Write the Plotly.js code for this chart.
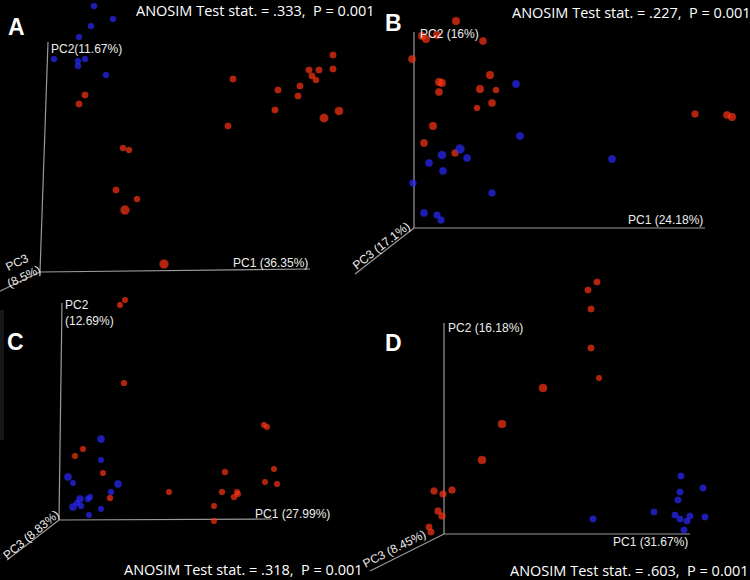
<!DOCTYPE html>
<html>
<head>
<meta charset="utf-8">
<script src="https://cdn.plot.ly/plotly-3.0.1.min.js"></script>
<style>html,body{margin:0;padding:0;background:#000;}</style>
</head>
<body>
<div id="chart" style="width:750px;height:580px;"></div>
<script>
// ---- Panel A ----
const aBlueX = [0.54,0.73,0.51,0.39,0.14,0.38,0.45,0.38,0.66];
const aBlueY = [2.66,2.53,2.46,2.35,2.13,2.11,2.13,2.06,1.97];
const aBlueZ = [0.3,0.3,0.3,0.3,0.3,0.3,0.3,0.3,0.3];
const aRedX = [0.45,0.39,0.83,0.89,0.76,0.97,0.85,1.24,1.93,1.88,2.93,2.69,2.79,2.93,2.72,2.76,2.60,2.38,2.58,2.35,2.84,2.99];
const aRedY = [1.77,1.68,1.24,1.22,0.82,0.73,0.62,0.08,1.93,1.46,2.17,2.02,2.02,2.03,1.96,1.92,1.86,1.82,1.76,1.62,1.54,1.61];
const aRedZ = [0.4,0.4,0.3,0.3,0.4,0.3,1.0,1.0,0.4,0.4,0.4,0.4,0.4,0.4,0.4,0.3,0.4,0.4,0.4,0.4,0.9,0.8];
// ---- Panel B ----
const bRedX = [0.42,0.08,0.12,0.23,0.69,-0.02,0.25,0.28,0.25,0.76,0.66,0.82,0.63,0.78,0.19,0.10,0.41,2.81,3.13,3.18];
const bRedY = [2.07,1.92,1.89,1.93,1.87,1.69,1.46,1.45,1.36,1.53,1.39,1.38,1.20,1.25,1.02,0.85,0.75,1.14,1.13,1.11];
const bRedZ = [0.7,0.7,0.7,0.7,0.6,0.6,0.7,0.7,0.6,0.7,0.7,0.3,0.3,0.6,0.7,0.6,0.5,0.5,0.6,0.7];
const bBlueX = [1.02,1.06,0.46,0.28,0.53,0.15,0.29,-0.01,0.78,0.10,0.23,0.27,1.98];
const bBlueY = [1.44,0.92,0.79,0.73,0.70,0.65,0.57,0.45,0.35,0.15,0.13,0.08,0.69];
const bBlueZ = [0.6,0.6,1.0,0.8,0.6,0.6,0.6,0.5,0.5,0.6,0.5,0.5,0.6];
// ---- Panel C ----
const cRedX = [0.61,0.66,0.65,0.16,0.24,0.44,0.51,1.10,1.66,1.63,1.78,1.79,1.75,1.55,1.55,2.05,2.08,2.15,2.06,2.18];
const cRedY = [2.15,2.20,1.37,0.64,0.71,0.47,0.22,0.28,0.48,0.28,0.28,0.26,0.23,0.14,-0.01,0.95,0.93,0.51,0.38,0.36];
const cRedZ = [0.2,0.2,0.3,0.2,0.2,0.2,0.3,0.2,0.3,0.3,0.2,0.2,0.3,0.2,0.2,0.2,0.2,0.2,0.2,0.2];
const cBlueX = [0.42,0.42,0.09,0.14,0.59,0.52,0.21,0.31,0.29,0.18,0.22,0.14,0.42,0.30];
const cBlueY = [0.81,0.60,0.43,0.37,0.36,0.28,0.21,0.23,0.21,0.17,0.14,0.13,0.11,0.05];
const cBlueZ = [0.6,0.2,0.6,0.2,0.6,0.3,0.6,0.3,0.3,0.3,0.3,0.6,0.2,0.2];
// ---- Panel D ----
const dRedX = [1.53,1.44,1.47,1.47,1.55,0.99,0.58,0.38,-0.10,-0.01,0.08,-0.06,-0.02,-0.15,-0.13];
const dRedY = [2.52,2.44,2.25,1.86,1.56,1.46,1.10,0.74,0.43,0.40,0.44,0.23,0.18,0.07,0.02];
const dRedZ = [0.4,0.4,0.4,0.4,0.2,0.8,0.8,0.8,0.5,0.5,0.5,0.5,0.5,0.4,0.4];
const dBlueX = [2.37,2.36,2.34,2.59,2.10,2.31,2.36,2.46,2.43,2.61,2.40,1.49];
const dBlueY = [0.58,0.42,0.34,0.46,0.22,0.19,0.15,0.18,0.13,0.17,0.04,0.15];
const dBlueZ = [0.4,0.4,0.4,0.4,0.4,0.4,0.4,0.4,0.4,0.4,0.4,0.4];

const panelLetters = ['A','B','C','D'];
const anosimStats = ['.333','.227','.318','.603'];
const anosimP = ['0.001','0.001','0.001','0.001'];
const pc1Labels = ['PC1 (36.35%)','PC1 (24.18%)','PC1 (27.99%)','PC1 (31.67%)'];
const pc2Labels = ['PC2(11.67%)','PC2 (16%)','PC2<br>(12.69%)','PC2 (16.18%)'];
const pc3Labels = ['PC3<br>(8.5%)','PC3 (17.1%)','PC3 (8.83%)','PC3 (8.45%)'];

const W = 750, H = 580;
const sizeOf = z => z.map(v => 5 + 4 * v);
function mk(x, y, z, ax, red) {
  return {
    type: 'scatter', mode: 'markers', x: x, y: y,
    xaxis: 'x' + ax, yaxis: 'y' + ax, hoverinfo: 'skip', showlegend: false,
    cliponaxis: false,
    marker: {
      size: sizeOf(z),
      color: red ? '#ff3414' : '#2a2aff',
      line: {width: 0.6, color: red ? 'rgba(255,60,30,0.45)' : 'rgba(50,50,255,0.45)'}
    }
  };
}
const traces = [
  mk(aBlueX, aBlueY, aBlueZ, '', false), mk(aRedX, aRedY, aRedZ, '', true),
  mk(bRedX, bRedY, bRedZ, '2', true), mk(bBlueX, bBlueY, bBlueZ, '2', false),
  mk(cRedX, cRedY, cRedZ, '3', true), mk(cBlueX, cBlueY, cBlueZ, '3', false),
  mk(dRedX, dRedY, dRedZ, '4', true), mk(dBlueX, dBlueY, dBlueZ, '4', false)
];

// pixel origin of each panel's axes (layout), 100 px per unit
const origins = [[40,272],[414,228],[59,520],[444,534]];
const axisEnds = [
  {v:[0.08,2.30], h:[2.70,0.03], d:[-0.42,-0.20]},
  {v:[0,1.96], h:[2.91,0], d:[-0.59,-0.46]},
  {v:[0.03,2.17], h:[2.13,0.01], d:[-0.52,-0.40]},
  {v:[0,2.11], h:[2.46,0], d:[-0.74,-0.37]}
];

const layout = {
  width: W, height: H,
  margin: {l:0, r:0, t:0, b:0},
  paper_bgcolor: '#000', plot_bgcolor: 'rgba(0,0,0,0)',
  showlegend: false, shapes: [], annotations: []
};
const names = ['', '2', '3', '4'];
origins.forEach((o, i) => {
  const n = names[i];
  const ax = {domain:[0,1], visible:false, showgrid:false, zeroline:false, fixedrange:true};
  layout['xaxis' + n] = Object.assign({}, ax, {range: [-o[0]/100, (W - o[0])/100], anchor: 'y' + n});
  layout['yaxis' + n] = Object.assign({}, ax, {range: [(o[1] - H)/100, o[1]/100], anchor: 'x' + n});
  const e = axisEnds[i];
  ['v','h','d'].forEach(k => {
    layout.shapes.push({type:'line', xref:'x' + n, yref:'y' + n, x0:0, y0:0, x1:e[k][0], y1:e[k][1],
      line:{color:'#9a9a9a', width:1.2}, layer:'below'});
  });
});
layout.shapes.push({type:'rect', xref:'paper', yref:'paper', x0:0, x1:4/W, y0:1-440/H, y1:1-310/H,
  fillcolor:'#161616', line:{width:0}, layer:'below'});

function ann(text, px, py, opts) {
  layout.annotations.push(Object.assign({
    text: text, xref:'paper', yref:'paper', x: px/W, y: 1 - py/H,
    showarrow:false, xanchor:'center', yanchor:'middle',
    font:{family:'Liberation Sans, Arial, sans-serif', size:12, color:'#ececec'}
  }, opts || {}));
}
const letterPos = [[16,27],[393,23],[15,342],[393,343]];
const anosimPos = [[255,11],[631,12],[244,569],[629,570]];
const pc1Pos = [[310,263,'right'],[705,220,'right'],[253,514,'left'],[690,542,'right']];
const pc2Pos = [[49,49],[418,34],[63,313],[446,328]];
const pc3Pos = [[20,270,-26],[381,246,-38],[31,535,-40],[394,549,-27]];
for (let i = 0; i < 4; i++) {
  ann('<b>' + panelLetters[i] + '</b>', letterPos[i][0], letterPos[i][1],
    {font:{family:'Liberation Sans, Arial, sans-serif', size:23, color:'#ffffff'}});
  ann('ANOSIM Test stat. = ' + anosimStats[i] + ',  P = ' + anosimP[i], anosimPos[i][0], anosimPos[i][1],
    {font:{family:'Open Sans, Liberation Sans, sans-serif', size:14.5, color:'#ffffff'}});
  ann(pc1Labels[i], pc1Pos[i][0], pc1Pos[i][1], {xanchor: pc1Pos[i][2]});
  ann(pc2Labels[i], pc2Pos[i][0], pc2Pos[i][1], {xanchor:'left', align:'left'});
  ann(pc3Labels[i], pc3Pos[i][0], pc3Pos[i][1], {textangle: pc3Pos[i][2]});
}

Plotly.newPlot('chart', traces, layout, {staticPlot:true, displayModeBar:false});
</script>
</body>
</html>
